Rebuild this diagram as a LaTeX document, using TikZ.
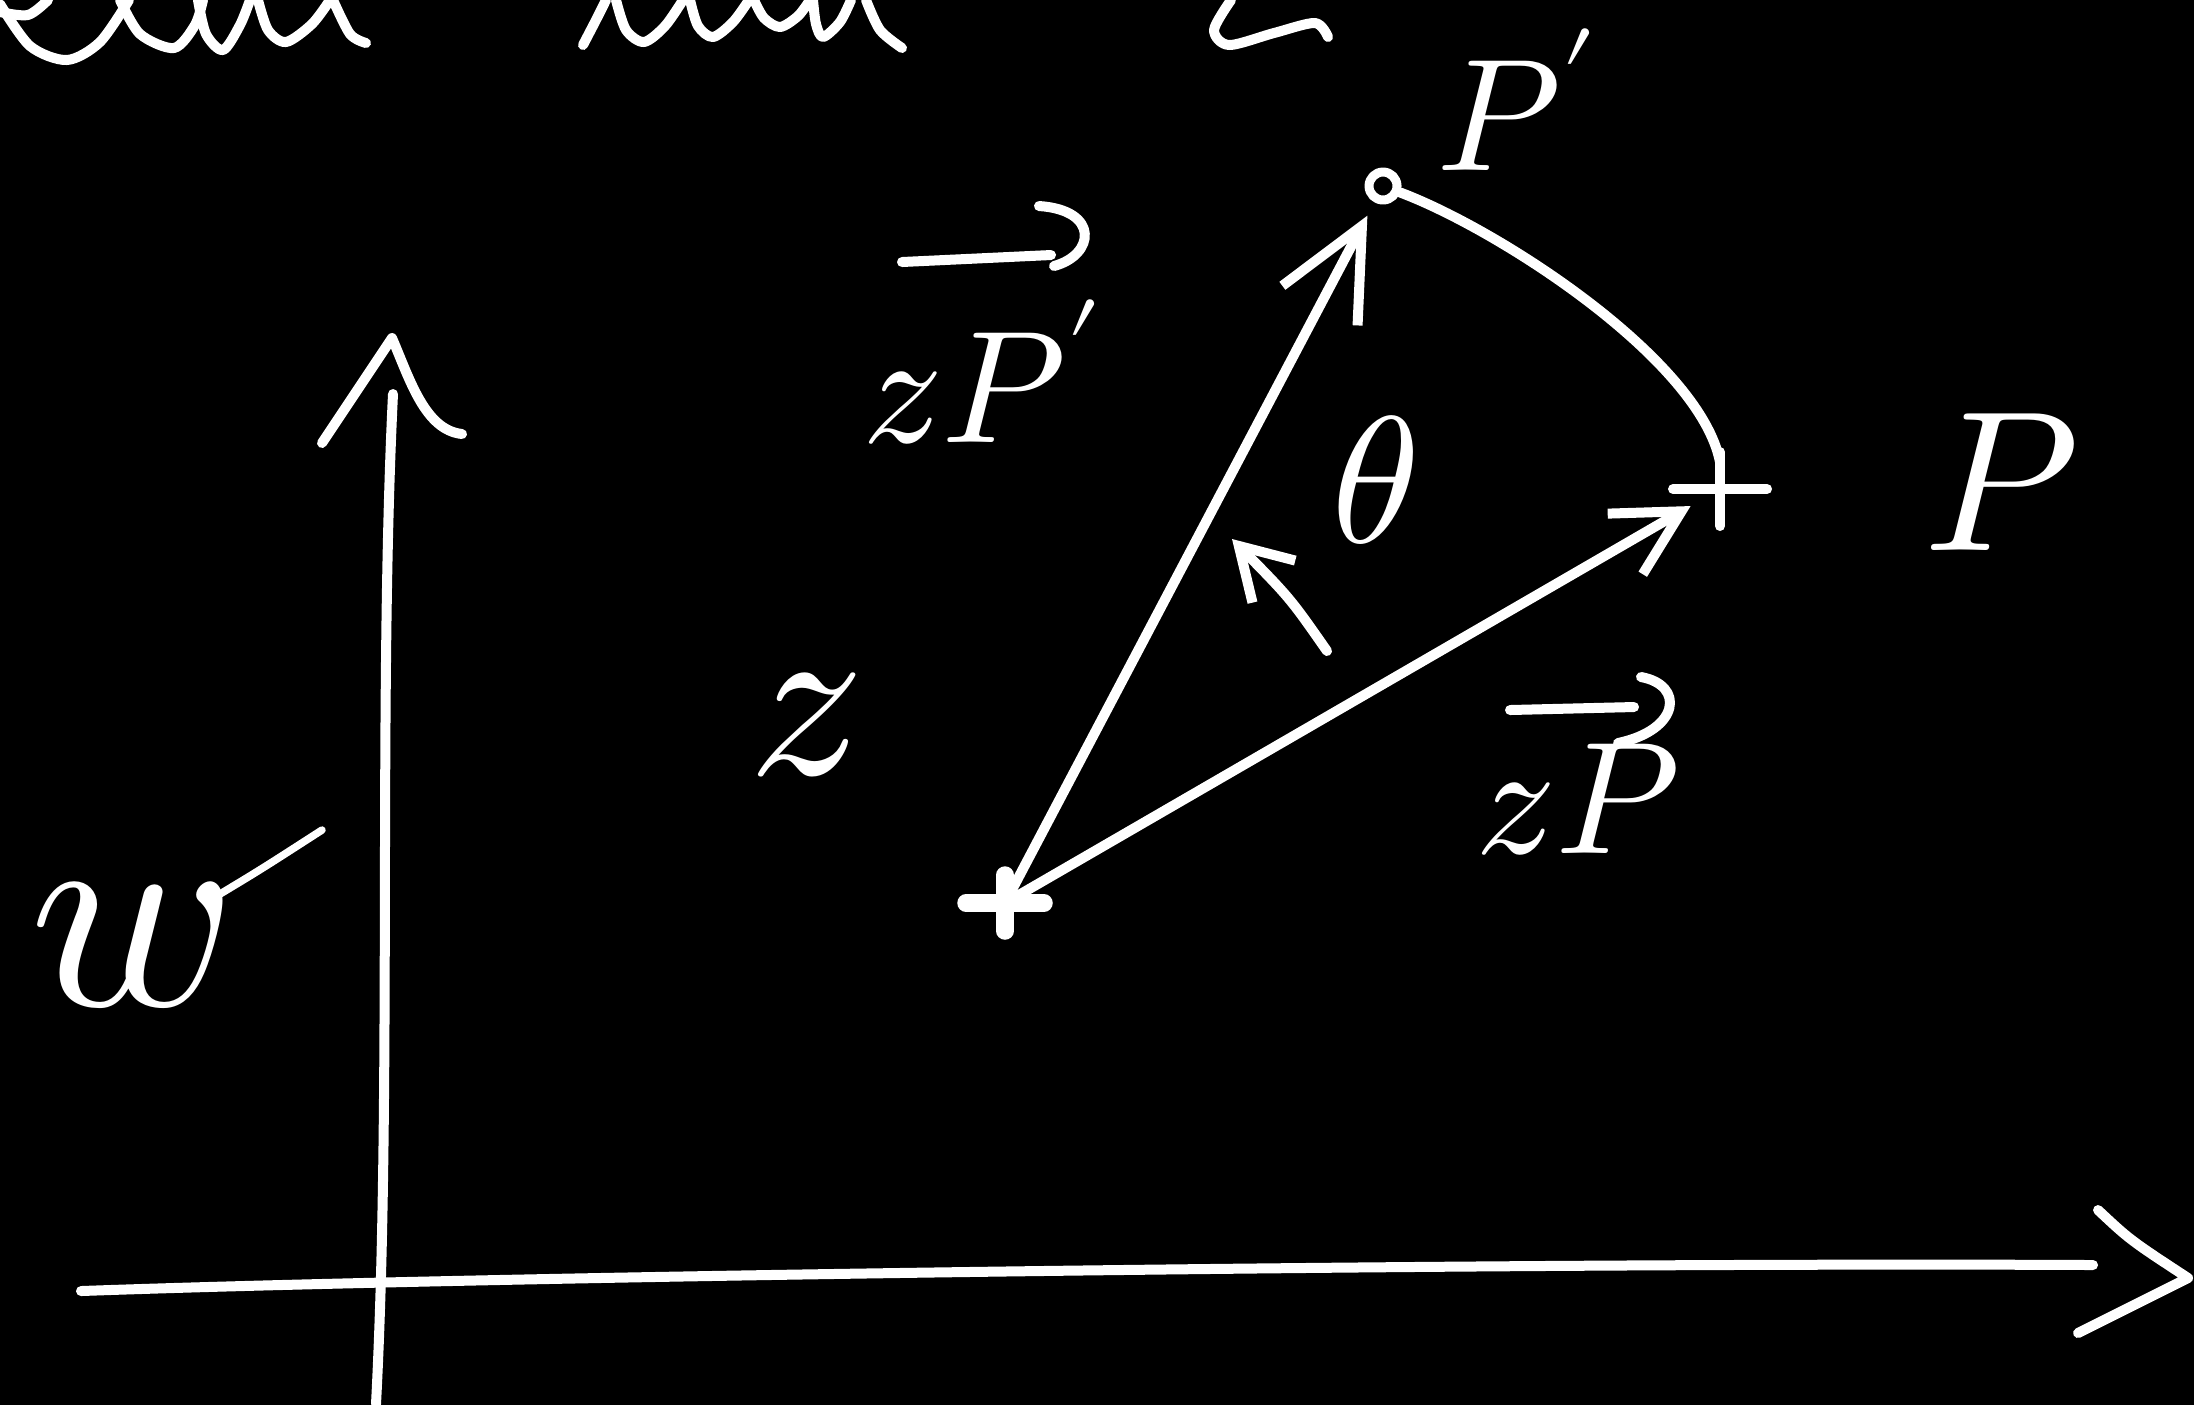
\documentclass[tikz,border=0pt]{standalone}
\usepackage{unicode-math}
\usetikzlibrary{arrows.meta}

\tikzset{
  ink/.style={draw=white, line width=2pt, line cap=round, line join=round},
  handlabel/.style={text=white, inner sep=0.5pt},
  bigbarb/.style={-{Straight Barb[length=18pt,width=17pt]}},
  smallbarb/.style={-{Straight Barb[length=13pt,width=14pt]}},
  tinybarb/.style={-{Straight Barb[length=10pt,width=12pt]}},
}

\begin{document}
\begin{tikzpicture}[x=0.2pt,y=0.2pt,yscale=-1,xscale=1]
\useasboundingbox (0,0) rectangle (2194,1404);
\fill[black] (-20,-20) rectangle (2214,1424);
\clip (0,0) rectangle (2194,1404);

%Ink cut off at the top edge
\draw[ink] plot[smooth] coordinates {(0,12) (28,15) (48,0)};
\draw[ink] plot[smooth] coordinates {(0,4) (30,46) (67,60) (100,42) (129,0)};
\draw[ink] plot[smooth] coordinates {(120,0) (140,34) (174,48) (195,25) (203,0)};
\draw[ink] plot[smooth] coordinates {(198,0) (206,34) (223,50) (240,25) (250,0)};
\draw[ink] plot[smooth] coordinates {(258,0) (268,30) (286,42) (312,24) (330,0)};
\draw[ink] plot[smooth] coordinates {(333,0) (350,34) (366,43)};
\draw[ink] plot[smooth] coordinates {(583,45) (596,20) (606,0)};
\draw[ink] plot[smooth] coordinates {(616,0) (626,30) (644,42) (665,26) (683,0)};
\draw[ink] plot[smooth] coordinates {(690,0) (698,26) (713,37) (733,22) (749,0)};
\draw[ink] plot[smooth] coordinates {(754,0) (764,18) (780,27) (798,16) (810,0)};
\draw[ink] plot[smooth] coordinates {(813,0) (816,24) (823,37) (840,22) (851,0)};
\draw[ink] plot[smooth] coordinates {(866,0) (880,30) (902,48)};
\draw[ink] plot[smooth] coordinates {(1231,0) (1214,30) (1229,45) (1274,33) (1315,23) (1328,37)};

%Axes
\coordinate (ytip) at (392,338);
\coordinate (xtip) at (2188,1278);
\draw[ink] (376,1404) .. controls (392,1100) and (378,700) .. (393,394);
\draw[ink] (322,443) -- (ytip) .. controls (410,380) and (425,430) .. (462,434);
\draw[ink] (81,1291) .. controls (500,1276) and (1500,1262) .. (2093,1265);
\draw[ink] (2098,1210) .. controls (2130,1240) .. (xtip) -- (2078,1333);

%Points
\coordinate (z) at (1005,903);
\coordinate (P) at (1720,489);
\node[ink, circle, minimum size=5.6pt, inner sep=0pt, line width=1.8pt] (Pp) at (1383,186) {};
\draw[ink, line width=3.5pt] ([xshift=-7.8pt]z) -- ([xshift=7.8pt]z);
\draw[ink, line width=3.5pt] ([yshift=-5.6pt]z) -- ([yshift=5.6pt]z);
\draw[ink] ([xshift=-9.4pt]P) -- ([xshift=9.4pt]P);
\draw[ink] ([yshift=-7.4pt]P) -- ([yshift=7.4pt]P);

%Vectors
\draw[ink, bigbarb, shorten >=3pt] (z) -- (Pp);
\draw[ink, smallbarb, shorten >=6.8pt] (z) -- (P);
\draw[ink] (Pp) .. controls (1500,230) and (1700,360) .. ([yshift=-5.4pt]P);

%Angle
\coordinate (arcA) at (1327,651);
\coordinate (arcB) at (1232,539);
\draw[ink, tinybarb] (arcA) .. controls (1290,598) .. (arcB);

% Text Node
\node[handlabel, font=\fontsize{46}{50}\selectfont] (zlab) at (805,725) {$z$};
\node[handlabel, font=\fontsize{40}{44}\selectfont] (Plab) at (2002,482) {$P$};
\node[handlabel, font=\fontsize{32}{36}\selectfont] (Pplab) at (1518,100) {$P'$};
\node[handlabel, font=\fontsize{36}{40}\selectfont] (theta) at (1375,480) {$\theta$};
\node[handlabel, font=\fontsize{32}{36}\selectfont] (zPp) at (983,372) {$zP'$};
\node[handlabel, font=\fontsize{32}{36}\selectfont] (zP) at (1578,800) {$zP$};
\node[handlabel, font=\fontsize{56}{60}\selectfont] (w) at (130,945) {$w$};
\coordinate (wtail) at (322,830);
\draw[ink, line width=1.5pt] ([xshift=16pt,yshift=-9pt]w.center) .. controls (260,870) .. (wtail);

%Hand-drawn vector arrows over the labels
\draw[ink] (902,262) -- (1051,255);
\draw[ink] (1039,206) .. controls (1100,210) and (1095,255) .. (1054,266);
\draw[ink] (1510,710) -- (1634,707);
\draw[ink] (1641,677) .. controls (1685,685) and (1680,730) .. (1618,743);
\end{tikzpicture}
\end{document}
